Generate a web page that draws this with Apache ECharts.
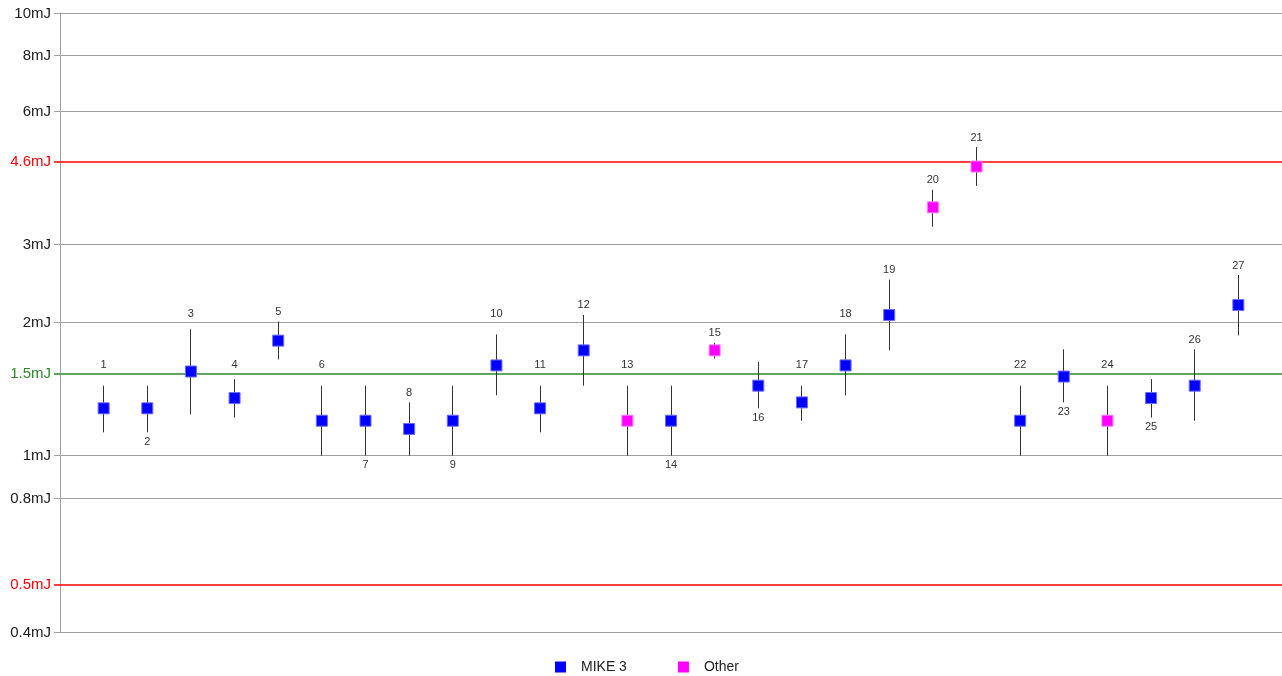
<!DOCTYPE html>
<html>
<head>
<meta charset="utf-8">
<script src="https://cdn.jsdelivr.net/npm/echarts@6/dist/echarts.min.js"></script>
<style>
  html, body { margin: 0; padding: 0; background: #ffffff; }
  #chart { width: 1282px; height: 676px; }
</style>
</head>
<body>
<div id="chart"></div>
<script>
// ---------- data ----------
const pointIds = [1, 2, 3, 4, 5, 6, 7, 8, 9, 10, 11, 12, 13, 14, 15, 16, 17, 18, 19, 20, 21, 22, 23, 24, 25, 26, 27];
const energy   = [1.28, 1.28, 1.55, 1.35, 1.82, 1.20, 1.20, 1.15, 1.20, 1.60, 1.28, 1.73, 1.20, 1.20, 1.73, 1.44, 1.32, 1.60, 2.08, 3.64, 4.50, 1.20, 1.51, 1.20, 1.35, 1.44, 2.19];
const errLow   = [1.13, 1.13, 1.24, 1.22, 1.65, 1.00, 1.00, 1.00, 1.00, 1.37, 1.13, 1.44, 1.00, 1.00, 1.66, 1.28, 1.20, 1.37, 1.73, 3.29, 4.07, 1.00, 1.32, 1.00, 1.22, 1.20, 1.87];
const errHigh  = [1.44, 1.44, 1.93, 1.49, 2.01, 1.44, 1.44, 1.32, 1.44, 1.88, 1.44, 2.08, 1.44, 1.44, 1.80, 1.63, 1.44, 1.88, 2.50, 3.99, 4.98, 1.44, 1.74, 1.44, 1.49, 1.74, 2.56];
const groups   = ['MIKE 3', 'MIKE 3', 'MIKE 3', 'MIKE 3', 'MIKE 3', 'MIKE 3', 'MIKE 3', 'MIKE 3', 'MIKE 3', 'MIKE 3', 'MIKE 3', 'MIKE 3', 'Other', 'MIKE 3', 'Other', 'MIKE 3', 'MIKE 3', 'MIKE 3', 'MIKE 3', 'Other', 'Other', 'MIKE 3', 'MIKE 3', 'Other', 'MIKE 3', 'MIKE 3', 'MIKE 3'];
const seriesNames = ['MIKE 3', 'Other'];
const tickValues = [0.4, 0.512, 0.8, 1, 1.53, 2, 3, 4.6, 6, 8, 10];
const tickLabels = ['0.4mJ', '0.5mJ', '0.8mJ', '1mJ', '1.5mJ', '2mJ', '3mJ', '4.6mJ', '6mJ', '8mJ', '10mJ'];
const limitValues  = [0.512, 4.6];
const targetValues = [1.53];

// ---------- style ----------
const FONT = '"Liberation Sans", Arial, Helvetica, sans-serif';
const seriesColors = { 'MIKE 3': '#0000ff', 'Other': '#ff00ff' };
const seriesBorders = { 'MIKE 3': '#6a6aff', 'Other': '#ff7aff' };
const labelBelowIds = [2, 7, 9, 14, 16, 23, 25];
const RED = '#ff0000', GREEN = '#2a8a2a', GRID = '#a0a0a0';

function lineColor(v) {
  if (limitValues.indexOf(v) >= 0) return RED;
  if (targetValues.indexOf(v) >= 0) return GREEN;
  return GRID;
}
function labelColor(v) {
  if (limitValues.indexOf(v) >= 0) return RED;
  if (targetValues.indexOf(v) >= 0) return GREEN;
  return '#1a1a1a';
}

const chart = echarts.init(document.getElementById('chart'), null, { renderer: 'canvas' });

const gridData = tickValues.map((v, i) => [0, v, i]);
const errData = pointIds.map((id, i) => [id, energy[i], errLow[i], errHigh[i], i]);

function renderGrid(params, api) {
  const cs = params.coordSys;
  const v = api.value(1);
  const idx = api.value(2);
  const colored = lineColor(v) !== GRID;
  let y = api.coord([0, v])[1];
  y = colored ? Math.round(y) : Math.round(y - 0.5) + 0.5;
  return {
    type: 'group',
    children: [
      {
        type: 'line',
        shape: { x1: cs.x - 6, y1: y, x2: cs.x + cs.width, y2: y },
        style: { stroke: lineColor(v), lineWidth: colored ? 1.6 : 1 },
        silent: true
      },
      {
        type: 'text',
        style: {
          text: tickLabels[idx],
          x: cs.x - 9, y: y,
          align: 'right', verticalAlign: 'middle',
          fill: labelColor(v),
          font: '15px ' + FONT
        },
        silent: true
      }
    ]
  };
}

function renderErr(params, api) {
  const x = api.value(0);
  const lo = api.value(2), hi = api.value(3);
  const id = x;
  const pHi = api.coord([x, hi]);
  const pLo = api.coord([x, lo]);
  const px = Math.round(pHi[0] - 0.5) + 0.5;
  const gridYs = tickValues.map(v => api.coord([0, v])[1]);
  let ly;
  if (labelBelowIds.indexOf(id) >= 0) {
    ly = pLo[1] + 9.5;
  } else {
    ly = pHi[1] - 9.5;
    for (const g of gridYs) {
      if (ly > g - 9 && ly < g + 8) ly = g - 9;
    }
  }
  return {
    type: 'group',
    children: [
      {
        type: 'line',
        shape: { x1: px, y1: pHi[1], x2: px, y2: pLo[1] },
        style: { stroke: '#333333', lineWidth: 1 },
        silent: true
      },
      {
        type: 'text',
        style: {
          text: String(id),
          x: pHi[0], y: ly,
          align: 'center', verticalAlign: 'middle',
          fill: '#333333',
          font: '11px ' + FONT
        },
        silent: true
      }
    ]
  };
}

const scatterSeries = seriesNames.map(name => ({
  name: name,
  type: 'scatter',
  symbol: 'rect',
  symbolSize: 11,
  itemStyle: { color: seriesColors[name], borderColor: seriesBorders[name], borderWidth: 1, opacity: 1 },
  data: pointIds.map((id, i) => groups[i] === name ? [id, energy[i]] : null).filter(d => d !== null),
  z: 5
}));

chart.setOption({
  animation: false,
  backgroundColor: '#ffffff',
  textStyle: { fontFamily: FONT },
  grid: { left: 60, right: 0, top: 13, bottom: 44, containLabel: false },
  xAxis: {
    type: 'value', min: 0, max: 28, show: false
  },
  yAxis: {
    type: 'log', logBase: 10, min: 0.4, max: 10,
    axisLine: { show: true, lineStyle: { color: GRID, width: 1 } },
    axisTick: { show: false },
    axisLabel: { show: false },
    splitLine: { show: false },
    minorTick: { show: false },
    minorSplitLine: { show: false }
  },
  legend: {
    data: seriesNames.map(n => ({ name: n, icon: 'rect', itemStyle: { color: seriesColors[n], borderWidth: 0 } })),
    left: 555, top: 659, padding: 0,
    itemWidth: 11, itemHeight: 11, itemGap: 51,
    textStyle: { fontSize: 14, color: '#222222', fontFamily: FONT, padding: [0, 0, 0, 10], lineHeight: 16 },
    selectedMode: false
  },
  series: [
    {
      name: 'gridlines',
      type: 'custom',
      renderItem: renderGrid,
      data: gridData,
      encode: { x: 0, y: 1 },
      silent: true,
      clip: false,
      z: 1
    },
    {
      name: 'error',
      type: 'custom',
      renderItem: renderErr,
      data: errData,
      encode: { x: 0, y: [1, 2, 3] },
      silent: true,
      clip: false,
      z: 3
    }
  ].concat(scatterSeries)
});
</script>
</body>
</html>
